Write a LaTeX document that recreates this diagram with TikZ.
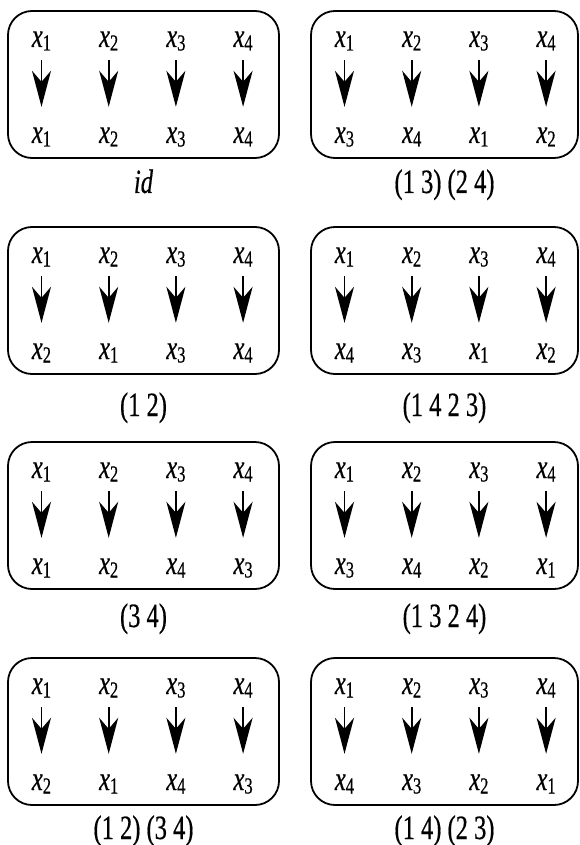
\documentclass[tikz,border=0pt]{standalone}
\usepackage{fontspec}
\setmainfont{Liberation Serif}[FakeBold=0.6, ItalicFeatures={FakeBold=0.6}]
\usetikzlibrary{arrows.meta}
\newcommand\cz[1]{\scalebox{0.72}[1]{#1}}
\newcommand\xs[1]{\cz{\textit{x}\raisebox{-3.5pt}{\fontsize{23}{23}\selectfont #1}}}
\tikzset{
  boxn/.style={draw, line width=1.8pt, rounded corners=24pt, inner sep=0pt},
  xn/.style={inner sep=0pt, text height=18pt, text depth=5pt, anchor=base, font=\fontsize{34}{34}\selectfont},
  labn/.style={inner sep=0pt, anchor=base, font=\fontsize{34}{34}\selectfont},
  arr/.style={line width=1.6pt, -{Stealth[length=36pt, width=19pt, inset=11pt]}, shorten <=8pt, shorten >=18pt}
}
% #1 name, #2 left, #3 top, #4 width, #5-#8 images, #9 label
\newcommand\permbox[9]{%
  \node[boxn, minimum width=#4pt, minimum height=147pt] (#1box) at ({#2+#4/2},{#3+73.5}) {};
  \foreach \b [count=\i] in {#5,#6,#7,#8}{
    \pgfmathsetmacro\cx{#2+33.5+67.2*(\i-1)}
    \node[xn] (#1t\i) at (\cx,{#3+36}) {\xs{\i}};
    \node[xn] (#1b\i) at (\cx,{#3+132}) {\xs{\b}};
    \draw[arr] (#1t\i.south) -- (#1b\i.north);
  }
  \permlabel{#1}{#2}{#4}{#9}%
}
\newcommand\permlabel[4]{\node[labn] (#1lab) at ({#2+#3/2},\labely) {\cz{#4}};}
\begin{document}
\begin{tikzpicture}[x=1pt,y=-1pt]
\useasboundingbox (0,0) rectangle (579,845);
\def\labely{193}
\permbox{a}{8}{11}{271}{1}{2}{3}{4}{\textit{id}}
\permbox{b}{311}{11}{267}{3}{4}{1}{2}{(1 3) (2 4)}
\def\labely{416}
\permbox{c}{8}{227}{271}{2}{1}{3}{4}{(1 2)}
\permbox{d}{311}{227}{267}{4}{3}{1}{2}{(1 4 2 3)}
\def\labely{627}
\permbox{e}{8}{442}{271}{1}{2}{4}{3}{(3 4)}
\permbox{f}{311}{442}{267}{3}{4}{2}{1}{(1 3 2 4)}
\def\labely{839}
\permbox{g}{8}{658}{271}{2}{1}{4}{3}{(1 2) (3 4)}
\permbox{h}{311}{658}{267}{4}{3}{2}{1}{(1 4) (2 3)}
\end{tikzpicture}
\end{document}
